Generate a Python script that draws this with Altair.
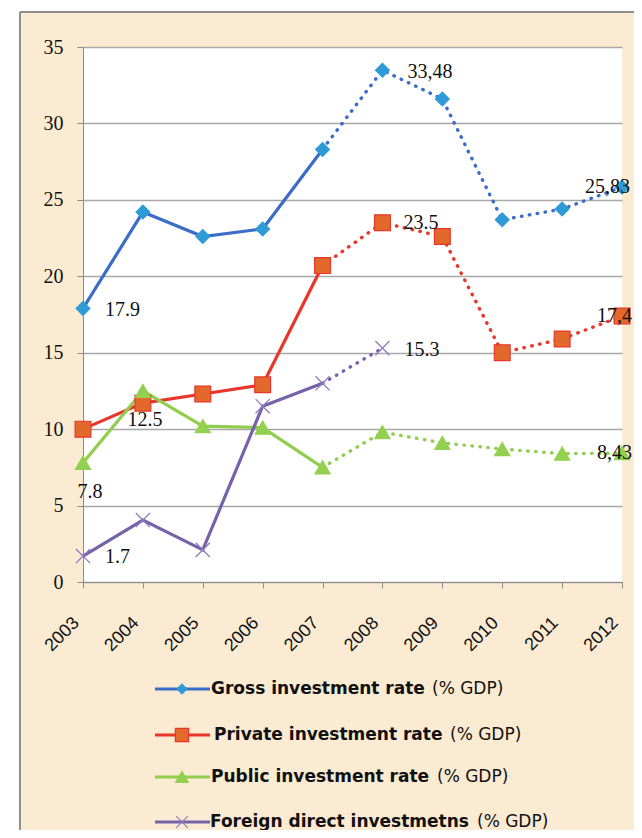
import altair as alt
import pandas as pd

years = [2003, 2004, 2005, 2006, 2007, 2008, 2009, 2010, 2011, 2012]
gross = [17.9, 24.2, 22.6, 23.1, 28.3, 33.48, 31.6, 23.7, 24.4, 25.83]
private = [10.0, 11.7, 12.3, 12.9, 20.7, 23.5, 22.6, 15.0, 15.9, 17.4]
public = [7.8, 12.5, 10.2, 10.1, 7.5, 9.8, 9.1, 8.7, 8.4, 8.43]
fdi = [1.7, 4.05, 2.1, 11.5, 13.0, 15.3, None, None, None, None]

series_names = ["Gross investment rate", "Private investment rate",
                "Public investment rate", "Foreign direct investmetns"]
series_values = [gross, private, public, fdi]
line_colors = ["#3A6CC8", "#E8362B", "#92CD4F", "#7562A8"]
marker_fill = ["#2E9BD6", "#E2682C", "#92D050", "#9A86C4"]
marker_stroke = ["#2E9BD6", "#E8362B", "#92D050", "#8E7BBE"]
marker_shape = ["diamond", "square", "triangle-up", "M-1,-1L1,1M-1,1L1,-1"]
marker_size = [190, 250, 230, 200]
split_year = 2007  # solid up to here, dotted after

# data labels: series index, year, text, dx, dy, align
label_series = [0, 0, 0, 1, 1, 2, 2, 2, 3, 3]
label_years = [2003, 2008, 2012, 2008, 2012, 2003, 2004, 2012, 2003, 2008]
label_texts = ["17.9", "33,48", "25,83", "23.5", "17,4", "7.8", "12.5", "8,43", "1.7", "15.3"]
label_dx = [22, 25, -37, 21, -25, 7, 2, -25, 22, 22]
label_dy = [2, 2, 0, 0, 0, 29, 29, 0, 1, 2]
label_align = ["left", "left", "left", "left", "left", "center", "center", "left", "left", "left"]

W, H = 539, 535
BEIGE = "#FAEBD2"

rows = []
for name, vals in zip(series_names, series_values):
    for y, v in zip(years, vals):
        if v is not None:
            rows.append({"series": name, "year": y, "value": v})
df = pd.DataFrame(rows)

x_enc = alt.X("year:O", scale=alt.Scale(type="point", padding=0),
              axis=alt.Axis(title=None, labelAngle=-45, labelAlign="right",
                            labelBaseline="middle", labelPadding=32,
                            labelOffset=-7,
                            labelFont="Liberation Sans", labelFontSize=18,
                            labelColor="#111", domainColor="#8C8C8C",
                            tickColor="#8C8C8C", tickSize=6, grid=False))
y_enc = alt.Y("value:Q", scale=alt.Scale(domain=[0, 35], nice=False, zero=True),
              axis=alt.Axis(title=None, values=[0, 5, 10, 15, 20, 25, 30, 35],
                            labelFont="Liberation Serif", labelFontSize=20,
                            labelColor="#111", labelPadding=14,
                            domainColor="#8C8C8C", tickColor="#8C8C8C",
                            tickSize=6, grid=True, gridColor="#A8A8A8",
                            gridWidth=1.3))

one = pd.DataFrame({"k": [0]})
layers = []

# white margin strips and grey frame of the beige panel
layers.append(alt.Chart(one).mark_rect(color="white").encode(
    x=alt.value(-80), x2=alt.value(-63), y=alt.value(-50), y2=alt.value(H + 300)))
layers.append(alt.Chart(one).mark_rect(color="white").encode(
    x=alt.value(-80), x2=alt.value(W + 40), y=alt.value(-50), y2=alt.value(-35)))
layers.append(alt.Chart(one).mark_rule(color="#8E8E8E", strokeWidth=2).encode(
    x=alt.value(-63), y=alt.value(-35), y2=alt.value(H + 300)))
layers.append(alt.Chart(one).mark_rule(color="#8E8E8E", strokeWidth=2).encode(
    x=alt.value(-63), x2=alt.value(W + 40), y=alt.value(-35)))

for i, name in enumerate(series_names):
    sub = df[df.series == name]
    solid = sub[sub.year <= split_year]
    dotted = sub[sub.year >= split_year]
    layers.append(alt.Chart(solid).mark_line(color=line_colors[i], strokeWidth=3.2)
                  .encode(x=x_enc, y=y_enc))
    layers.append(alt.Chart(dotted).mark_line(color=line_colors[i], strokeWidth=3.4,
                                              strokeDash=[0.5, 7.5], strokeCap="round")
                  .encode(x=x_enc, y=y_enc))
for i, name in enumerate(series_names):
    sub = df[df.series == name]
    is_x = i == 3
    layers.append(alt.Chart(sub).mark_point(
        shape=marker_shape[i], size=marker_size[i], filled=not is_x,
        fill=None if is_x else marker_fill[i], stroke=marker_stroke[i],
        strokeWidth=1.3 if is_x else 1.2, opacity=1)
        .encode(x=x_enc, y=y_enc))

for s, yr, t, dx, dy, al in zip(label_series, label_years, label_texts,
                                 label_dx, label_dy, label_align):
    vals = series_values[s]
    v = vals[years.index(yr)]
    ldf = pd.DataFrame({"year": [yr], "value": [v], "t": [t]})
    layers.append(alt.Chart(ldf).mark_text(
        font="Liberation Serif", fontSize=20, color="#111", align=al,
        baseline="middle", dx=dx, dy=dy).encode(x=x_enc, y=y_enc, text="t:N"))

# custom legend
legend_y = [642, 688, 730, 775]
legend_text_x = [128, 131, 128, 127]
legend_suffix_x = [349, 367, 354, 394]
for i, name in enumerate(series_names):
    ly = legend_y[i]
    layers.append(alt.Chart(one).mark_rule(color=line_colors[i], strokeWidth=3).encode(
        x=alt.value(72), x2=alt.value(127), y=alt.value(ly)))
    is_x = i == 3
    layers.append(alt.Chart(one).mark_point(
        shape=marker_shape[i], size=marker_size[i] * (0.5 if i == 0 else 0.7),
        filled=not is_x, fill=None if is_x else marker_fill[i],
        stroke=marker_stroke[i], opacity=1, strokeWidth=1.2).encode(
        x=alt.value(99), y=alt.value(ly)))
    layers.append(alt.Chart(pd.DataFrame({"t": [name]})).mark_text(
        font="DejaVu Sans", fontWeight="bold", fontSize=17, color="#111",
        align="left", baseline="middle").encode(
        x=alt.value(legend_text_x[i]), y=alt.value(ly), text="t:N"))
    layers.append(alt.Chart(pd.DataFrame({"t": ["(% GDP)"]})).mark_text(
        font="DejaVu Sans", fontSize=17, color="#111",
        align="left", baseline="middle").encode(
        x=alt.value(legend_suffix_x[i]), y=alt.value(ly), text="t:N"))

chart = alt.layer(*layers).properties(
    width=W, height=H,
    autosize=alt.AutoSizeParams(type="none"),
    padding={"left": 75, "top": 39, "right": 12, "bottom": 248},
    background=BEIGE,
).configure_view(fill="white", stroke=None)

chart.save("out.html", embed_options={"renderer": "svg", "actions": False})
